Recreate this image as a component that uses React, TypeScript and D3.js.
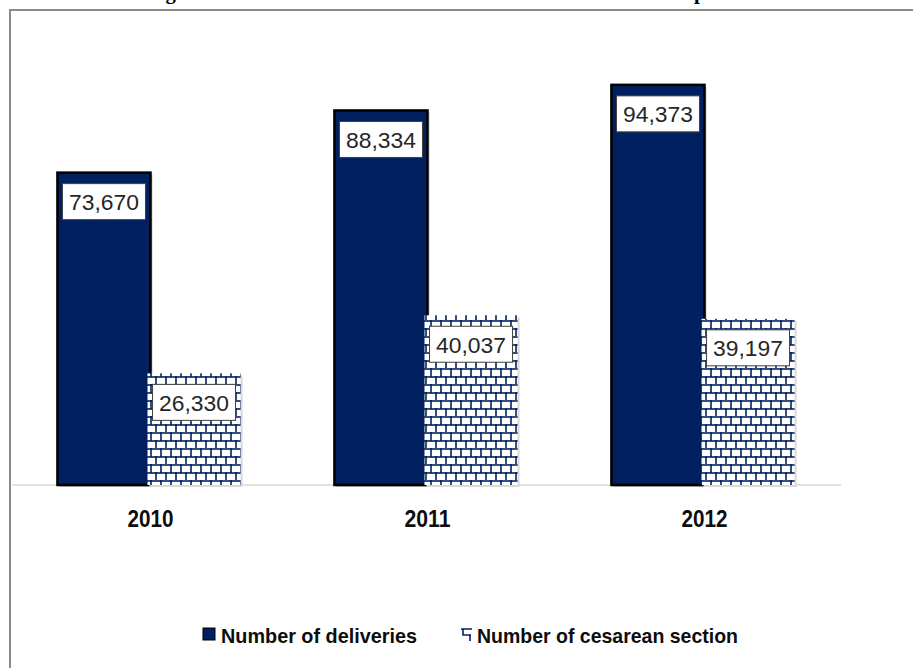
import React from "react";
import * as d3 from "d3";

const years = ["2010", "2011", "2012"];
const deliveries = [73670, 88334, 94373];
const cesarean = [26330, 40037, 39197];
const seriesNames = ["Number of deliveries", "Number of cesarean section"];
const titleText = "Figure 1: Number of deliveries and cesarean section in the hospitals";

const W = 913;
const H = 668;
const NAVY = "#002060";

export default function App() {
  const x = d3.scaleBand<string>().domain(years).range([12, 843]).padding(0);
  const y = d3.scaleLinear().domain([0, 100000]).range([485, 61]);
  const barW = x.bandwidth() * 0.336;
  const fmt = d3.format(",");
  const center = (c: string) => (x(c) as number) + x.bandwidth() / 2;

  const labelBox = (cx: number, topY: number, v: number, key: string) => {
    const bw = 83;
    const bh = 36;
    const by = topY + 11;
    return (
      <g key={key}>
        <rect x={cx - bw / 2} y={by} width={bw} height={bh} fill="#fff" stroke="#404040" strokeWidth={1} />
        <text
          x={cx}
          y={by + bh / 2 + 1}
          textAnchor="middle"
          dominantBaseline="central"
          fontFamily="'Liberation Sans', Arial, sans-serif"
          fontSize={22}
          fill="#262626"
          textLength={70}
          lengthAdjust="spacingAndGlyphs"
        >
          {fmt(v)}
        </text>
      </g>
    );
  };

  return (
    <svg width={W} height={H} style={{ position: "absolute", left: 0, top: 0, background: "#fff" }}>
      <defs>
        <pattern id="brick" patternUnits="userSpaceOnUse" width={10} height={16} x={0} y={0}>
          <rect width={10} height={16} fill="#fff" />
          <line x1={0} x2={10} y1={1} y2={1} stroke={NAVY} strokeWidth={1.6} />
          <line x1={0} x2={10} y1={9} y2={9} stroke={NAVY} strokeWidth={1.6} />
          <line x1={1} x2={1} y1={0} y2={9} stroke={NAVY} strokeWidth={1.6} />
          <line x1={6} x2={6} y1={8} y2={16} stroke={NAVY} strokeWidth={1.6} />
        </pattern>
      </defs>

      {/* title, cut off at the top edge as in the reference */}
      <text
        x={147}
        y={-1.5}
        fontFamily="'Liberation Serif', 'Times New Roman', serif"
        fontWeight="bold"
        fontSize={20.7}
        fill="#000"
      >
        {titleText}
      </text>

      {/* frame */}
      <rect x={10} y={10} width={W + 20} height={H + 20} fill="none" stroke="#8a8a8a" strokeWidth={2} />

      {/* axis line */}
      <line x1={12} x2={841} y1={y(0)} y2={y(0)} stroke="#d9d9d9" strokeWidth={1.5} />

      {years.map((c, i) => {
        const cx = center(c);
        const dx0 = cx - barW;
        const cx0 = cx - 3;
        return (
          <g key={c}>
            <rect x={dx0 + 2} y={y(deliveries[i]) + 2} width={barW} height={y(0) - y(deliveries[i])} fill="#c8c8c8" />
            <rect
              x={dx0}
              y={y(deliveries[i])}
              width={barW}
              height={y(0) - y(deliveries[i])}
              fill={NAVY}
              stroke="#000"
              strokeWidth={2.5}
            />
            <rect x={cx0 + 2} y={y(cesarean[i]) + 2} width={barW} height={y(0) - y(cesarean[i])} fill="#d8d8d8" />
            <rect
              x={cx0}
              y={y(cesarean[i])}
              width={barW}
              height={y(0) - y(cesarean[i])}
              fill="url(#brick)"
            />
            {labelBox(dx0 + barW / 2, y(deliveries[i]), deliveries[i], "d" + c)}
            {labelBox(cx0 + barW / 2, y(cesarean[i]), cesarean[i], "c" + c)}
            <text
              x={cx}
              y={518}
              textAnchor="middle"
              dominantBaseline="central"
              fontFamily="'Liberation Sans', Arial, sans-serif"
              fontWeight="bold"
              fontSize={24}
              fill="#0d0d0d"
              textLength={46}
              lengthAdjust="spacingAndGlyphs"
            >
              {c}
            </text>
          </g>
        );
      })}

      {/* legend */}
      <g>
        <rect x={203} y={628} width={12} height={12} fill={NAVY} stroke="#000" strokeWidth={1} />
        <text
          x={221}
          y={635}
          dominantBaseline="central"
          fontFamily="'Liberation Sans', Arial, sans-serif"
          fontWeight="bold"
          fontSize={21}
          fill="#0d0d0d"
          textLength={196}
          lengthAdjust="spacingAndGlyphs"
        >
          {seriesNames[0]}
        </text>
        <path d="M461,629 H472 M463,629 V635 H471 M470,635 V641" fill="none" stroke={NAVY} strokeWidth={1.6} />
        <text
          x={477}
          y={635}
          dominantBaseline="central"
          fontFamily="'Liberation Sans', Arial, sans-serif"
          fontWeight="bold"
          fontSize={21}
          fill="#0d0d0d"
          textLength={261}
          lengthAdjust="spacingAndGlyphs"
        >
          {seriesNames[1]}
        </text>
      </g>
    </svg>
  );
}
